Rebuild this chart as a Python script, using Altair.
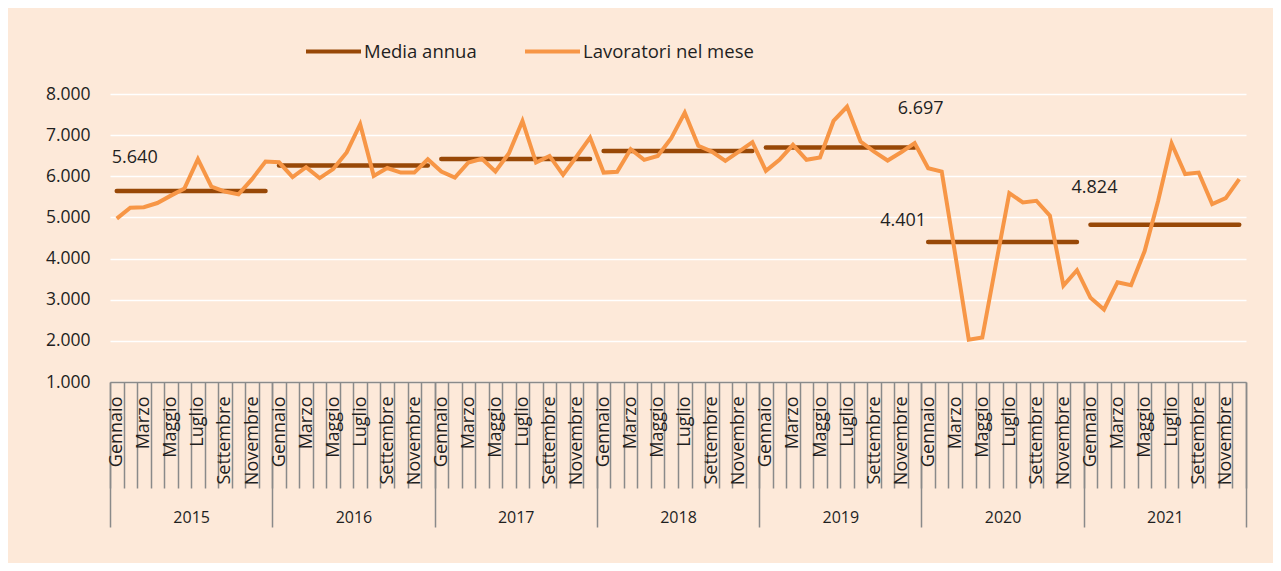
import altair as alt
import pandas as pd

# ---------------- data ----------------
months_it = ["Gennaio", "Febbraio", "Marzo", "Aprile", "Maggio", "Giugno",
             "Luglio", "Agosto", "Settembre", "Ottobre", "Novembre", "Dicembre"]
shown_months = ["Gennaio", "Marzo", "Maggio", "Luglio", "Settembre", "Novembre"]
years = [2015, 2016, 2017, 2018, 2019, 2020, 2021]

workers_2015 = [4970, 5235, 5250, 5350, 5530, 5700, 6415, 5750, 5630, 5560, 5930, 6360]
workers_2016 = [6340, 5980, 6220, 5955, 6175, 6580, 7265, 6010, 6200, 6090, 6090, 6415]
workers_2017 = [6115, 5970, 6335, 6425, 6115, 6560, 7345, 6335, 6495, 6035, 6480, 6940]
workers_2018 = [6090, 6110, 6660, 6400, 6495, 6925, 7547, 6740, 6600, 6375, 6600, 6830]
workers_2019 = [6135, 6400, 6765, 6400, 6455, 7345, 7690, 6845, 6600, 6383, 6585, 6805]
workers_2020 = [6195, 6115, 4100, 2030, 2080, 3850, 5590, 5365, 5405, 5040, 3345, 3717]
workers_2021 = [3046, 2763, 3426, 3353, 4178, 5400, 6798, 6055, 6090, 5323, 5470, 5930]

annual_means = [5640, 6265, 6420, 6615, 6697, 4401, 4824]
labeled_years = [2015, 2019, 2020, 2021]
y_ticks = [1000, 2000, 3000, 4000, 5000, 6000, 7000, 8000]
series_names = ["Media annua", "Lavoratori nel mese"]

# ---------------- tables ----------------
all_series = [workers_2015, workers_2016, workers_2017, workers_2018,
              workers_2019, workers_2020, workers_2021]
rows = []
for yr, vals in zip(years, all_series):
    for m, v in zip(months_it, vals):
        rows.append({"mese": f"{m} {yr}", "anno": str(yr), "valore": v,
                     "serie": "Lavoratori nel mese"})
monthly = pd.DataFrame(rows)
keys = list(monthly["mese"])
year_keys = [str(y) for y in years]

means = pd.DataFrame({"anno": year_keys, "media": annual_means,
                      "serie": "Media annua"})


def fmt_it(v):
    return f"{v:,}".replace(",", ".")


ann_rows = []
for yr, mv in zip(years, annual_means):
    if yr in labeled_years:
        anchor = "Dicembre" if yr == 2019 else "Gennaio"
        ann_rows.append({"anno": str(yr), "mese": f"{anchor} {yr}",
                         "media": mv, "etichetta": fmt_it(mv)})
ann = pd.DataFrame(ann_rows)

# ---------------- style ----------------
BG = "#FDE9D9"
ORANGE = "#F79646"
BROWN = "#984807"
GRAY = "#8A8A8A"
TEXT = "#1F1F1F"
FONT = "Open Sans"

y_scale = alt.Scale(domain=[1000, 8000], nice=False, zero=False)
month_scale = alt.Scale(type="band", domain=keys, paddingInner=0, paddingOuter=0)
color_scale = alt.Scale(domain=series_names, range=[BROWN, ORANGE])

label_test = "[" + ",".join(f"'{m}'" for m in shown_months) + "]"
month_label_expr = (f"indexof({label_test}, split(datum.value,' ')[0]) >= 0 ? "
                    "split(datum.value,' ')[0] : ''")

month_axis = alt.Axis(
    title=None, orient="bottom", domain=True, domainColor=GRAY, domainWidth=1.5,
    ticks=True, tickBand="extent", tickSize=106, tickColor=GRAY, tickWidth=1.5,
    labelExpr=month_label_expr, labelAngle=270, labelAlign="right",
    labelBaseline="middle", labelPadding=-92, labelFontSize=18, labelFont=FONT,
    labelColor=TEXT, labelOverlap=False, labelLimit=0, grid=False, zindex=1,
)

y_axis = alt.Axis(
    title=None, values=y_ticks, domain=False, ticks=False, grid=True,
    gridColor="white", gridWidth=1.5,
    labelExpr="replace(format(datum.value, ','), ',', '.')",
    labelPadding=20, labelFontSize=17.5, labelFont=FONT, labelColor=TEXT,
)

legend = alt.Legend(
    orient="none", legendX=194, legendY=-72, direction="horizontal", title=None,
    symbolType="stroke", symbolSize=3025, symbolStrokeWidth=4,
    labelFontSize=18.5, labelFont=FONT, labelColor=TEXT, labelLimit=0,
    columnPadding=40, labelOffset=1, padding=0,
)

line = alt.Chart(monthly).mark_line(strokeWidth=4).encode(
    x=alt.X("mese:N", sort=keys, scale=month_scale, axis=month_axis),
    y=alt.Y("valore:Q", scale=y_scale, axis=y_axis),
    color=alt.Color("serie:N", scale=color_scale, legend=legend),
)

label_specs = {"2015": ("center", 18, -33),
               "2019": ("center", 6, -39),
               "2020": ("center", -25, -21),
               "2021": ("center", 4, -37)}
label_layers = []
for yr, (al, dx, dy) in label_specs.items():
    label_layers.append(
        alt.Chart(ann).transform_filter(alt.datum.anno == yr)
        .mark_text(align=al, baseline="middle", dx=dx, dy=dy, fontSize=18,
                   font=FONT, color=TEXT)
        .encode(
            x=alt.X("mese:N", sort=keys, scale=month_scale),
            y=alt.Y("media:Q", scale=y_scale),
            text="etichetta:N",
        )
    )

inner = alt.layer(line, *label_layers)

year_axis = alt.Axis(
    title=None, orient="bottom", domain=False, grid=False, ticks=True,
    tickBand="extent", tickSize=145, tickColor=GRAY, tickWidth=1.5,
    labelAngle=0, labelAlign="center", labelBaseline="middle", labelPadding=-10,
    labelFontSize=16, labelFont=FONT, labelColor=TEXT,
)

rules = alt.Chart(means).mark_rule(strokeWidth=4.5, strokeCap="round").encode(
    x=alt.X("anno:N", sort=year_keys, bandPosition=1 / 24,
            scale=alt.Scale(type="band", domain=year_keys, paddingInner=0,
                            paddingOuter=0),
            axis=year_axis),
    x2=alt.X2("anno", bandPosition=23 / 24),
    y=alt.Y("media:Q", scale=y_scale),
    color=alt.Color("serie:N", scale=color_scale, legend=legend),
)

chart = (
    alt.layer(rules, inner)
    .resolve_scale(x="independent")
    .properties(
        width=1136, height=288,
        padding={"left": 102, "top": 86, "right": 27, "bottom": 181},
        autosize=alt.AutoSizeParams(type="none"),
        background=BG,
    )
    .configure_view(stroke=None)
)

chart.save("out.html", embed_options={"renderer": "svg", "actions": False})
